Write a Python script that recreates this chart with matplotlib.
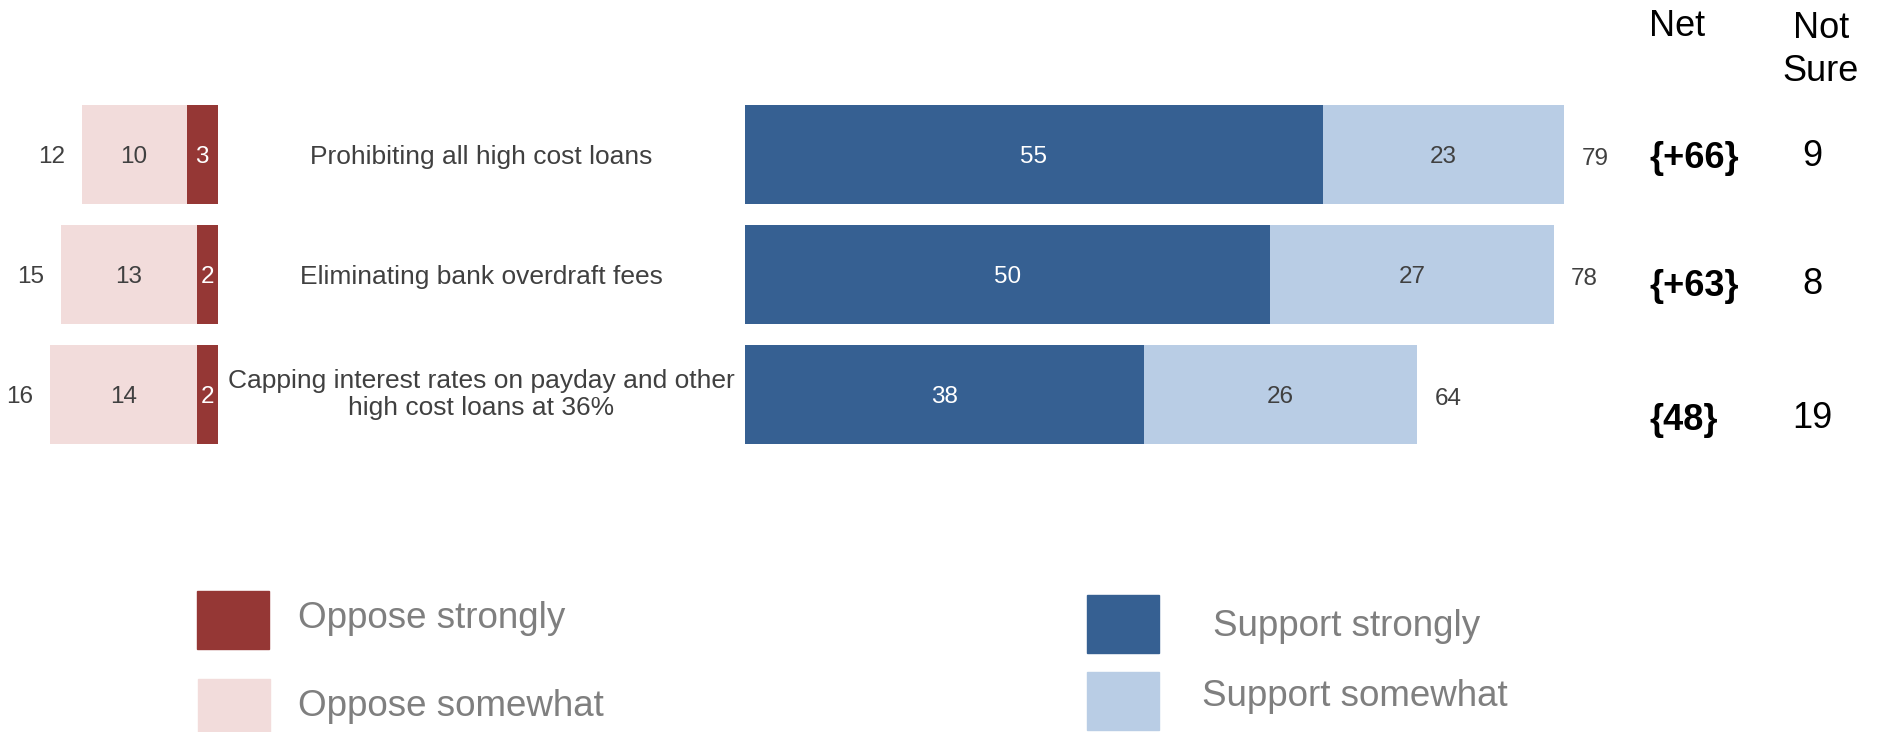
import matplotlib
matplotlib.use("Agg")
import matplotlib.pyplot as plt
from matplotlib.patches import Rectangle

plt.rcParams['font.family'] = ['Liberation Sans', 'DejaVu Sans']

# survey results (percent)
categories = ["Prohibiting all high cost loans",
              "Eliminating bank overdraft fees",
              "Capping interest rates on payday and other\nhigh cost loans at 36%"]
oppose_strongly = [3, 2, 2]
oppose_somewhat = [10, 13, 14]
oppose_total = [12, 15, 16]
support_strongly = [55, 50, 38]
support_somewhat = [23, 27, 26]
support_total = [79, 78, 64]
net_labels = ["{+66}", "{+63}", "{48}"]
not_sure = [9, 8, 19]

series = ["Oppose strongly", "Oppose somewhat", "Support strongly", "Support somewhat"]
colors = ["#953735", "#F2DCDB", "#366092", "#B9CDE5"]
dark_text = "#404040"

W, H = 1877, 732
fig = plt.figure(figsize=(W / 100, H / 100), dpi=100)
ax = fig.add_axes([0, 0, 1, 1])
ax.axis('off')

# pixel layout: oppose bars end at 218 px, support bars start at 745 px
px_per_unit = 10.5
x0 = 218
gap = (745 - x0) / px_per_unit
ax.set_xlim(-x0 / px_per_unit, (W - x0) / px_per_unit)
row0, row_step = 154.5, 120
ax.set_ylim((H - row0) / row_step, -row0 / row_step)
bar_h = 0.825

rows = list(range(len(categories)))

# oppose side, drawn leftwards from zero
ax.barh(rows, [-v for v in oppose_strongly], height=bar_h, color=colors[0])
ax.barh(rows, [-v for v in oppose_somewhat], left=[-v for v in oppose_strongly],
        height=bar_h, color=colors[1])
# support side
ax.barh(rows, support_strongly, left=gap, height=bar_h, color=colors[2])
ax.barh(rows, support_somewhat, left=[gap + v for v in support_strongly],
        height=bar_h, color=colors[3])

fs_num = 17.5
for i in rows:
    s, m = oppose_strongly[i], oppose_somewhat[i]
    ax.text(-s / 2, i, str(s), ha='center', va='center_baseline', color='white', fontsize=fs_num)
    ax.text(-s - m / 2, i, str(m), ha='center', va='center_baseline', color=dark_text, fontsize=fs_num)
    ax.annotate(str(oppose_total[i]), (-s - m, i), xytext=(-12, 0), textcoords='offset points',
                ha='right', va='center_baseline', color=dark_text, fontsize=fs_num)

    s, m = support_strongly[i], support_somewhat[i]
    ax.text(gap + s / 2, i, str(s), ha='center', va='center_baseline', color='white', fontsize=fs_num)
    ax.text(gap + s + m / 2, i, str(m), ha='center', va='center_baseline', color=dark_text, fontsize=fs_num)
    ax.annotate(str(support_total[i]), (gap + s + m, i), xytext=(12.5, -1.5), textcoords='offset points',
                ha='left', va='center_baseline', color=dark_text, fontsize=fs_num)

    va = 'center' if '\n' in categories[i] else 'center_baseline'
    ax.text(gap / 2, i, categories[i], ha='center', va=va, color=dark_text,
            fontsize=19, linespacing=1.15)


def fx(px):
    return px / W


def fy(py):
    return 1 - py / H


# Net / Not Sure columns
fig.text(fx(1649), fy(23), "Net", ha='left', va='center_baseline', fontsize=26, color='black')
fig.text(fx(1821), fy(50), "Not\nSure", ha='center', va='center', fontsize=26,
         color='black', linespacing=1.3)
col_y = [155, 282, 416]
for i in rows:
    fig.text(fx(1649), fy(col_y[i]), net_labels[i], ha='left', va='center_baseline',
             fontsize=26, fontweight='bold', color='black')
    fig.text(fx(1812), fy(col_y[i] - 2), str(not_sure[i]), ha='center', va='center_baseline',
             fontsize=26, color='black')

# legend
legend_boxes = [(197, 591, 649), (198, 679, 732), (1087, 595, 653), (1087, 672, 730)]
legend_text = [(298, 615), (298, 702), (1213, 623), (1202, 693)]
for name, c, (bx, by0, by1), (tx, ty) in zip(series, colors, legend_boxes, legend_text):
    fig.patches.append(Rectangle((fx(bx), fy(by1)), 72 / W, (by1 - by0) / H,
                                 transform=fig.transFigure, color=c))
    fig.text(fx(tx), fy(ty), name, ha='left', va='center_baseline', fontsize=26.5, color='#7F7F7F')

fig.savefig('out.png', dpi=100)
